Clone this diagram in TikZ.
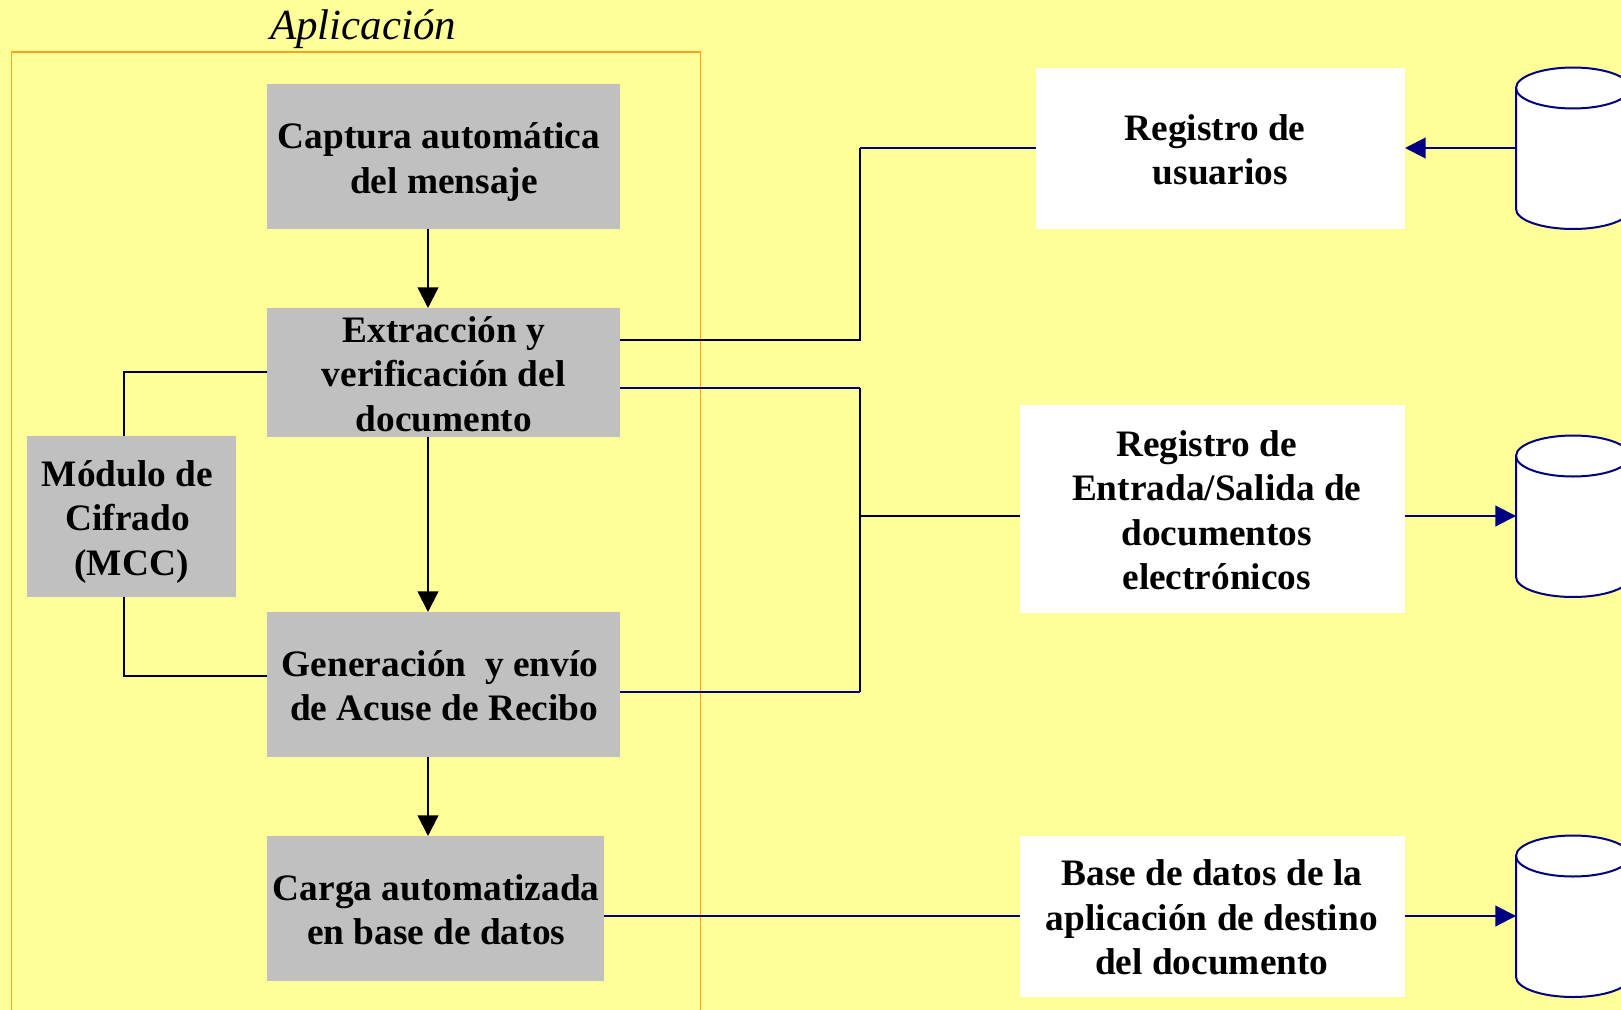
\documentclass[tikz,border=0pt]{standalone}
\usepackage{fontspec}
\setmainfont{Liberation Serif}
\usetikzlibrary{arrows.meta}
\definecolor{bgy}{HTML}{FFFF99}
\definecolor{graybox}{HTML}{C0C0C0}
\definecolor{nav}{HTML}{000080}
\definecolor{frameor}{HTML}{FFA31A}
\def\p{0.75pt}
\newcommand{\hs}[1]{\hspace*{#1\dimexpr0.75pt\relax}}
\newcommand{\cyl}[2]{%
  \draw[cylline] (1516,#1+20.5) -- (1516,#1+141.5)
    arc[start angle=180,end angle=360,x radius=57*\p,y radius=20*\p]
    -- (1630,#1+20.5) arc[start angle=0,end angle=180,x radius=57*\p,y radius=20.5*\p] -- cycle;
  \draw[cylline,fill=none] (1516,#1+20.5) arc[start angle=180,end angle=360,x radius=57*\p,y radius=20.5*\p];
  \coordinate (#2) at (1516,#1+80.5);
}
\tikzset{
  x=0.75pt,y=-0.75pt,
  boxg/.style={fill=graybox,draw=none,anchor=north west,inner sep=0pt,outer sep=0pt},
  boxw/.style={fill=white,draw=none,anchor=north west,inner sep=0pt,outer sep=0pt},
  txt/.style={font=\fontsize{28pt}{33.4pt}\selectfont\bfseries,align=center,inner sep=0pt,text=black},
  cylline/.style={draw=nav,fill=white,line width=1.5pt},
  blk/.style={draw=black,line width=1.6pt,line join=miter},
  nvy/.style={draw=nav,line width=1.6pt},
  blkarr/.style={blk,-{Triangle[length=15.5pt,width=15.5pt]}},
  nvyarr/.style={nvy,-{Triangle[length=15.5pt,width=15.5pt]}},
  frameline/.style={draw=frameor,line width=1pt},
  title/.style={font=\fontsize{32.2pt}{36pt}\selectfont\itshape,inner sep=0pt,text=black}
}
\begin{document}
\begin{tikzpicture}
\useasboundingbox (0,0) rectangle (1621,1010);
\clip (0,0) rectangle (1621,1010);
\fill[bgy] (0,0) rectangle (1621,1010);
\draw[frameline] (11.5,1040) -- (11.5,52) -- (700.5,52) -- (700.5,1040);
\node[title] (aplic) at (363,29) {Aplicación};

\node[boxg,minimum width=353*\p,minimum height=145*\p,
  label={[txt,name=b1t,xshift=-3.4pt,yshift=-4pt]center:Captura automática\\\hs{10}del mensaje}] (b1) at (267,84) {};
\node[boxg,minimum width=353*\p,minimum height=129*\p,
  label={[txt,name=b2t,xshift=0.2pt,yshift=-1pt]center:Extracción y\\verificación del\\documento}] (b2) at (267,308) {};
\node[boxg,minimum width=353*\p,minimum height=145*\p,
  label={[txt,name=b3t,xshift=-2.6pt,yshift=-1pt]center:Generación\ \ y envío\\\hs{8}de Acuse de Recibo}] (b3) at (267,612) {};
\node[boxg,minimum width=337*\p,minimum height=145*\p,
  label={[txt,name=b4t,xshift=0.5pt,yshift=-1pt]center:Carga automatizada\\en base de datos}] (b4) at (267,836) {};
\node[boxg,minimum width=209*\p,minimum height=161*\p,
  label={[txt,name=mt,xshift=-3pt,yshift=-3.8pt]center:Módulo de\\Cifrado\\\hs{8}(MCC)}] (mcc) at (27,436) {};
\node[boxw,minimum width=369*\p,minimum height=161*\p,
  label={[txt,name=w1t,xshift=-4pt,yshift=-1pt]center:Registro de\\\hs{10}usuarios}] (w1) at (1036,68) {};
\node[boxw,minimum width=385*\p,minimum height=208*\p,
  label={[txt,name=w2t,xshift=3.2pt,yshift=-0.8pt]center:\hs{-20}Registro de\\Entrada/Salida de\\documentos\\electrónicos}] (w2) at (1020,405) {};
\node[boxw,minimum width=385*\p,minimum height=161*\p,
  label={[txt,name=w3t,yshift=-0.9pt,xshift=-0.5pt]center:Base de datos de la\\aplicación de destino\\del documento}] (w3) at (1020,836) {};

\cyl{67.5}{c1}
\cyl{435.5}{c2}
\cyl{835.5}{c3}

\coordinate (m1) at (124,372);
\coordinate (m2) at (124,676);
\coordinate (ja) at (860,340);
\coordinate (jb) at (860,388);
\coordinate (jc) at (860,692);
\coordinate (jd) at (860,148);
\coordinate (je) at (860,516);
\coordinate (ax) at (428,229);
\coordinate (c4) at (1020,916);

\draw[blkarr] (ax) -- (ax |- b2.north);
\draw[blkarr] (ax |- b2.south) -- (ax |- b3.north);
\draw[blkarr] (ax |- b3.south) -- (ax |- b4.north);
\draw[blk] (b2.west |- m1) -- (m1) -- (m1 |- mcc.north);
\draw[blk] (m2 |- mcc.south) -- (m2) -- (b3.west |- m2);
\draw[blk] (b2.east |- ja) -- (ja) -- (jd);
\draw[nvy] (jd) -- (w1.west |- jd);
\draw[nvy] (b2.east |- jb) -- (jb);
\draw[blk] (jb) -- (jc);
\draw[nvy] (b3.east |- jc) -- (jc);
\draw[blk] (je) -- (w2.west |- je);
\draw[nvy] (b4.east |- c4) -- (c4);
\draw[nvyarr] (c1) -- (w1.east |- c1);
\draw[nvyarr] (w2.east |- c2) -- (c2);
\draw[nvyarr] (w3.east |- c3) -- (c3);
\end{tikzpicture}
\end{document}
